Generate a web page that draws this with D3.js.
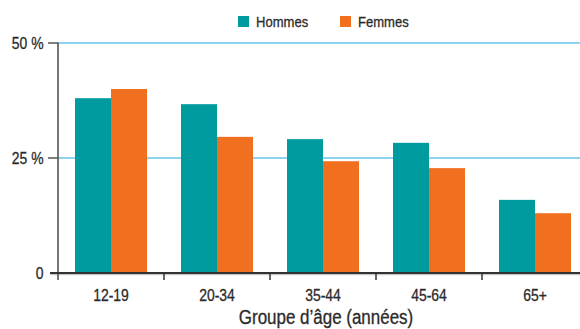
<!DOCTYPE html>
<html>
<head>
<meta charset="utf-8">
<script src="https://cdn.jsdelivr.net/npm/d3@7"></script>
<style>
  html, body { margin: 0; padding: 0; background: #fff; }
  svg { display: block; }
  text { font-family: "Liberation Sans", Arial, sans-serif; fill: #2b2b2b; stroke: #2b2b2b; stroke-width: 0.3px; }
</style>
</head>
<body>
<svg id="chart" width="580" height="329"></svg>
<script>
// Age groups and share (%) per sex
const categories = ["12-19", "20-34", "35-44", "45-64", "65+"];
const series = ["Hommes", "Femmes"];
const hommes = [38.0, 36.7, 29.1, 28.3, 15.9];
const femmes = [40.0, 29.6, 24.3, 22.8, 13.0];
const yTicks = [0, 25, 50];
const yTickLabels = ["0", "25 %", "50 %"];
const colors = ["#009b9e", "#f07020"];
const xTitle = "Groupe d\u2019\u00e2ge (ann\u00e9es)";

const svg = d3.select("#chart");
const W = 580, H = 329;
const m = { left: 58, right: -8, top: 43, bottom: 56 };
const plotRight = W - m.right;
const plotBottom = H - m.bottom;
const NARROW = 0.87;

// Condensed text: horizontally squeezed around its anchor point
function label(parent, tx, ty, str, size, anchor) {
  return parent.append("text")
    .attr("transform", `translate(${tx},${ty}) scale(${NARROW},1)`)
    .attr("text-anchor", anchor || "start")
    .attr("font-size", size)
    .text(str);
}

const x = d3.scaleBand().domain(categories).range([m.left, plotRight]).paddingInner(0).paddingOuter(0);
const xs = d3.scaleBand().domain(series).range([0, x.bandwidth()]).paddingInner(0).paddingOuter(0.472);
const y = d3.scaleLinear().domain([0, 50]).range([plotBottom, m.top]);

// Horizontal gridlines
svg.append("g")
  .selectAll("line")
  .data(yTicks.filter(d => d > 0))
  .join("line")
  .attr("x1", m.left).attr("x2", W)
  .attr("y1", d => y(d)).attr("y2", d => y(d))
  .attr("stroke", "#1fa9e1").attr("stroke-width", 1.2);

// Bars
const rows = categories.map((c, i) => ({ c, vals: [hommes[i], femmes[i]] }));
svg.append("g")
  .selectAll("g")
  .data(rows)
  .join("g")
  .attr("transform", d => `translate(${x(d.c)},0)`)
  .selectAll("rect")
  .data(d => d.vals.map((v, j) => ({ s: series[j], v, j })))
  .join("rect")
  .attr("x", d => xs(d.s))
  .attr("width", xs.bandwidth())
  .attr("y", d => y(d.v))
  .attr("height", d => y(0) - y(d.v))
  .attr("fill", d => colors[d.j]);

// Shadow under the baseline
svg.append("line")
  .attr("x1", m.left - 8).attr("x2", W)
  .attr("y1", y(0) + 1.5).attr("y2", y(0) + 1.5)
  .attr("stroke", "#c8c8c8").attr("stroke-width", 1.5);

// Y axis ticks and labels
const gy = svg.append("g");
gy.selectAll("line")
  .data(yTicks.filter(d => d > 0))
  .join("line")
  .attr("x1", m.left - 10).attr("x2", m.left)
  .attr("y1", d => y(d)).attr("y2", d => y(d))
  .attr("stroke", "#555").attr("stroke-width", 1.5);
yTicks.forEach((d, i) => label(gy, 43.5, y(d) + 6, yTickLabels[i], 16, "end"));

svg.append("line")
  .attr("x1", m.left).attr("x2", m.left)
  .attr("y1", y(50) - 0.5).attr("y2", y(0) + 7)
  .attr("stroke", "#555").attr("stroke-width", 1.6);

// X axis baseline
svg.append("line")
  .attr("x1", m.left - 8).attr("x2", W)
  .attr("y1", y(0)).attr("y2", y(0))
  .attr("stroke", "#333").attr("stroke-width", 1.8);

// Category boundary ticks
svg.append("g")
  .selectAll("line")
  .data(categories.slice(1))
  .join("line")
  .attr("x1", d => x(d)).attr("x2", d => x(d))
  .attr("y1", y(0)).attr("y2", y(0) + 7)
  .attr("stroke", "#333").attr("stroke-width", 1.5);

// Category labels
const gx = svg.append("g");
categories.forEach(c => label(gx, x(c) + x.bandwidth() / 2, y(0) + 27.5, c, 16, "middle"));

// Axis title
label(svg, 326, 324, xTitle, 19.5, "middle");

// Legend
const legendX = [238, 340];
series.forEach((s, i) => {
  const g = svg.append("g").attr("transform", `translate(${legendX[i]},16)`);
  g.append("rect").attr("width", 11).attr("height", 11).attr("fill", colors[i]);
  label(g, 18, 11, s, 15, "start");
});
</script>
</body>
</html>
